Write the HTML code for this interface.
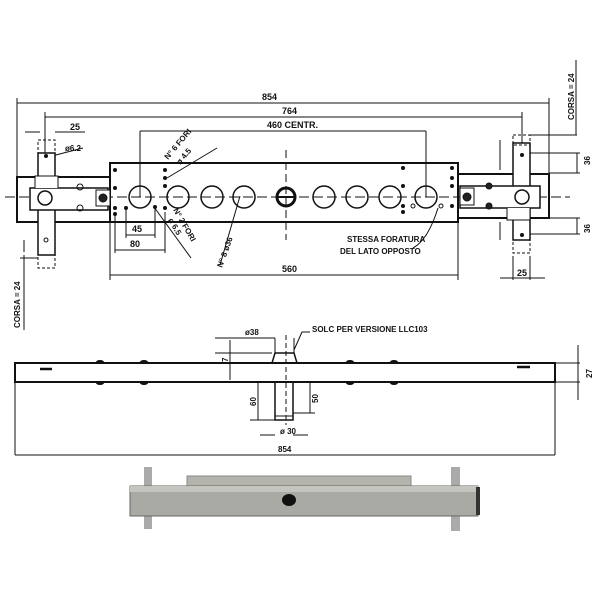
<!DOCTYPE html>
<html><head><meta charset="utf-8"><style>
html,body{margin:0;padding:0;background:#fff;}
svg{display:block;}
text{font-family:"Liberation Sans",sans-serif;font-weight:bold;fill:#111;}
</style></head><body>
<svg width="600" height="600" viewBox="0 0 600 600" xmlns="http://www.w3.org/2000/svg">
<g stroke="#111" fill="none" stroke-width="1">
<!-- dimension lines top -->
<line x1="17" y1="103" x2="549" y2="103"/><line x1="17" y1="98" x2="17" y2="177"/><line x1="549" y1="98" x2="549" y2="175"/>
<line x1="45" y1="117" x2="522" y2="117"/><line x1="45" y1="112" x2="45" y2="153"/><line x1="522" y1="112" x2="522" y2="143"/>
<line x1="140" y1="131" x2="426" y2="131"/><line x1="140" y1="131" x2="140" y2="197"/><line x1="426" y1="131" x2="426" y2="197"/>
<line x1="110" y1="275" x2="458" y2="275"/><line x1="110" y1="222" x2="110" y2="280"/><line x1="458" y1="222" x2="458" y2="280"/>
<line x1="126" y1="235" x2="155" y2="235"/><line x1="126" y1="210" x2="126" y2="238"/><line x1="155" y1="208" x2="155" y2="238"/>
<line x1="115" y1="250" x2="165" y2="250"/><line x1="115" y1="212" x2="115" y2="253"/><line x1="165" y1="212" x2="165" y2="253"/>
<line x1="25" y1="132" x2="40" y2="132"/><line x1="55" y1="132" x2="85" y2="132"/>
<!-- leaders -->
<line x1="48" y1="157" x2="83" y2="148"/><line x1="167" y1="178" x2="217" y2="148"/><line x1="154" y1="207" x2="191" y2="258"/><line x1="240" y1="196" x2="220" y2="265"/>
<path d="M438 208 Q428 240 413 248"/>
<!-- top view bodies -->
<rect x="17" y="177" width="93" height="45" stroke-width="2"/>
<rect x="110" y="163" width="348" height="59" stroke-width="2"/>
<rect x="458" y="174" width="91" height="44" stroke-width="2"/>
<line x1="5" y1="197" x2="570" y2="197" stroke-dasharray="10 4"/>
<line x1="286" y1="150" x2="286" y2="240" stroke-dasharray="8 4"/>
<!-- left plate -->
<rect x="38" y="153" width="17" height="102" fill="#fff" stroke-width="1.5"/>
<rect x="38" y="255" width="17" height="13" stroke-dasharray="3 2"/>
<rect x="38" y="140" width="17" height="13" stroke-dasharray="3 2"/>
<path d="M30 188 H108 V210 H30 Z" fill="#fff" stroke-width="1.5"/>
<path d="M35 188 V176 H58 V188" fill="#fff"/>
<circle cx="45" cy="198" r="7" fill="#fff" stroke-width="1.5"/>
<rect x="96" y="190" width="14" height="16" fill="#fff"/>
<circle cx="103" cy="198" r="4" fill="#222"/>
<circle cx="80" cy="187" r="3"/><circle cx="80" cy="208" r="3"/>
<!-- right plate -->
<rect x="513" y="143" width="17" height="97" fill="#fff" stroke-width="1.5"/>
<rect x="513" y="135" width="17" height="10" stroke-dasharray="3 2"/>
<rect x="513" y="240" width="17" height="13" stroke-dasharray="3 2"/>
<path d="M460 186 H540 V208 H460 Z" fill="#fff" stroke-width="1.5"/>
<path d="M507 208 V220 H530 V208" fill="#fff"/>
<circle cx="522" cy="197" r="7" fill="#fff" stroke-width="1.5"/>
<rect x="460" y="188" width="14" height="17" fill="#fff"/>
<circle cx="467" cy="197" r="4" fill="#222"/>
<circle cx="489" cy="186" r="3" fill="#222"/><circle cx="489" cy="206" r="3" fill="#222"/>
<!-- right dims -->
<line x1="530" y1="153" x2="580" y2="153"/><line x1="549" y1="173" x2="580" y2="173"/><line x1="577" y1="153" x2="577" y2="173"/>
<line x1="530" y1="234" x2="580" y2="234"/><line x1="549" y1="218" x2="580" y2="218"/><line x1="577" y1="218" x2="577" y2="234"/>
<line x1="530" y1="135" x2="577" y2="135"/><line x1="576" y1="60" x2="576" y2="135"/>
<line x1="500" y1="140" x2="500" y2="170"/><line x1="500" y1="222" x2="500" y2="240"/>
<line x1="513" y1="256" x2="513" y2="280"/><line x1="530" y1="256" x2="530" y2="280"/><line x1="500" y1="278" x2="545" y2="278"/>
<line x1="24" y1="255" x2="24" y2="330"/><line x1="24" y1="240" x2="24" y2="252"/><line x1="20" y1="258" x2="38" y2="258"/>
<!-- holes -->
<g stroke-width="1.5">
<circle cx="140" cy="197" r="11"/><circle cx="178" cy="197" r="11"/><circle cx="212" cy="197" r="11"/><circle cx="244" cy="197" r="11"/>
<circle cx="286" cy="197" r="9" stroke-width="3"/>
<circle cx="324" cy="197" r="11"/><circle cx="357" cy="197" r="11"/><circle cx="390" cy="197" r="11"/><circle cx="426" cy="197" r="11"/>
</g>
<line x1="276" y1="197" x2="296" y2="197" stroke-width="2"/>
</g>
<g fill="#111">
<circle cx="115" cy="170" r="2"/><circle cx="115" cy="188" r="2"/><circle cx="115" cy="208" r="2"/><circle cx="115" cy="214" r="2"/>
<circle cx="126" cy="208" r="2"/><circle cx="155" cy="207" r="2"/>
<circle cx="165" cy="170" r="2"/><circle cx="165" cy="178" r="2"/><circle cx="165" cy="186" r="2"/><circle cx="165" cy="208" r="2"/>
<circle cx="403" cy="168" r="2"/><circle cx="403" cy="186" r="2"/><circle cx="403" cy="206" r="2"/><circle cx="403" cy="212" r="2"/>
<circle cx="452" cy="168" r="2"/><circle cx="452" cy="178" r="2"/><circle cx="452" cy="186" r="2"/><circle cx="452" cy="206" r="2"/>
<circle cx="46" cy="156" r="2"/><circle cx="522" cy="155" r="2"/><circle cx="522" cy="235" r="2"/>
</g>
<g stroke="#111" fill="none"><circle cx="413" cy="206" r="2"/><circle cx="441" cy="206" r="2"/><circle cx="46" cy="240" r="2"/></g>
<!-- texts top -->
<text x="262" y="100" font-size="9">854</text>
<text x="282" y="114" font-size="9">764</text>
<text x="267" y="128" font-size="9">460 CENTR.</text>
<text x="70" y="130" font-size="9">25</text>
<text x="65" y="151" font-size="8">ø6.2</text>
<text x="132" y="232" font-size="9">45</text>
<text x="130" y="247" font-size="9">80</text>
<text x="282" y="272" font-size="9">560</text>
<text x="347" y="242" font-size="8">STESSA FORATURA</text>
<text x="340" y="254" font-size="8">DEL LATO OPPOSTO</text>
<text x="517" y="276" font-size="9">25</text>
<text font-size="8" transform="translate(168,160) rotate(-50)">N° 6 FORI</text>
<text font-size="8" transform="translate(180,165) rotate(-50)">ø 4.5</text>
<text font-size="8" transform="translate(173,210) rotate(60)">N° 2 FORI</text>
<text font-size="8" transform="translate(168,220) rotate(60)">ø 6.5</text>
<text font-size="8" transform="translate(222,268) rotate(-70)">N° 8 ø36</text>
<text font-size="8" transform="translate(590,165) rotate(-90)">36</text>
<text font-size="8" transform="translate(590,233) rotate(-90)">36</text>
<text font-size="8" transform="translate(574,120) rotate(-90)">CORSA = 24</text>
<text font-size="8" transform="translate(20,328) rotate(-90)">CORSA = 24</text>
<!-- side view -->
<g stroke="#111" fill="none">
<rect x="15" y="363" width="540" height="19" stroke-width="2"/>
<line x1="40" y1="369" x2="52" y2="369" stroke-width="2.5"/><line x1="517" y1="367" x2="530" y2="367" stroke-width="2.5"/>
<path d="M272 363 L275 353 H294 L297 363" stroke-width="1.5"/>
<rect x="275" y="382" width="18" height="38" stroke-width="1.5"/>
<line x1="275" y1="416" x2="293" y2="416"/>
<line x1="286" y1="335" x2="286" y2="425" stroke-dasharray="5 3"/>
<line x1="215" y1="338" x2="275" y2="338"/><line x1="275" y1="338" x2="275" y2="353"/><line x1="294" y1="338" x2="294" y2="353"/>
<path d="M294 350 L302 332 H310"/>
<line x1="215" y1="353" x2="272" y2="353"/><line x1="230" y1="340" x2="230" y2="380"/>
<line x1="15" y1="382" x2="15" y2="455"/><line x1="555" y1="382" x2="555" y2="455"/><line x1="15" y1="455" x2="555" y2="455"/>
<line x1="555" y1="363" x2="580" y2="363"/><line x1="555" y1="382" x2="580" y2="382"/><line x1="578" y1="345" x2="578" y2="400"/>
<line x1="250" y1="420" x2="275" y2="420"/><line x1="258" y1="382" x2="258" y2="420"/>
<line x1="293" y1="413" x2="315" y2="413"/><line x1="310" y1="382" x2="310" y2="413"/>
<line x1="260" y1="435" x2="275" y2="435"/><line x1="293" y1="435" x2="308" y2="435"/>
</g>
<g fill="#111"><ellipse cx="100" cy="362" rx="4" ry="2"/><ellipse cx="144" cy="362" rx="4" ry="2"/><ellipse cx="350" cy="362" rx="4" ry="2"/><ellipse cx="394" cy="362" rx="4" ry="2"/>
<ellipse cx="100" cy="383" rx="4" ry="2"/><ellipse cx="144" cy="383" rx="4" ry="2"/><ellipse cx="350" cy="383" rx="4" ry="2"/><ellipse cx="394" cy="383" rx="4" ry="2"/></g>
<text x="245" y="335" font-size="8">ø38</text>
<text x="312" y="332" font-size="8">SOLC PER VERSIONE LLC103</text>
<text x="278" y="452" font-size="8">854</text>
<text x="280" y="434" font-size="8">ø 30</text>
<text font-size="8" transform="translate(228,362) rotate(-90)">7</text>
<text font-size="8" transform="translate(592,378) rotate(-90)">27</text>
<text font-size="8" transform="translate(256,406) rotate(-90)">60</text>
<text font-size="8" transform="translate(318,403) rotate(-90)">50</text>
<!-- photo -->
<rect x="187" y="476" width="224" height="10" fill="#b4b4ac" stroke="#888"/>
<rect x="144" y="467" width="8" height="62" fill="#aaa"/>
<rect x="451" y="467" width="9" height="64" fill="#aaa"/>
<rect x="130" y="486" width="348" height="30" fill="#a9aaa3" stroke="#666"/>
<rect x="130" y="486" width="348" height="6" fill="#c4c5be"/>
<ellipse cx="289" cy="500" rx="7" ry="6" fill="#111"/>
<rect x="476" y="487" width="4" height="28" fill="#333"/>
</svg>
</body></html>
